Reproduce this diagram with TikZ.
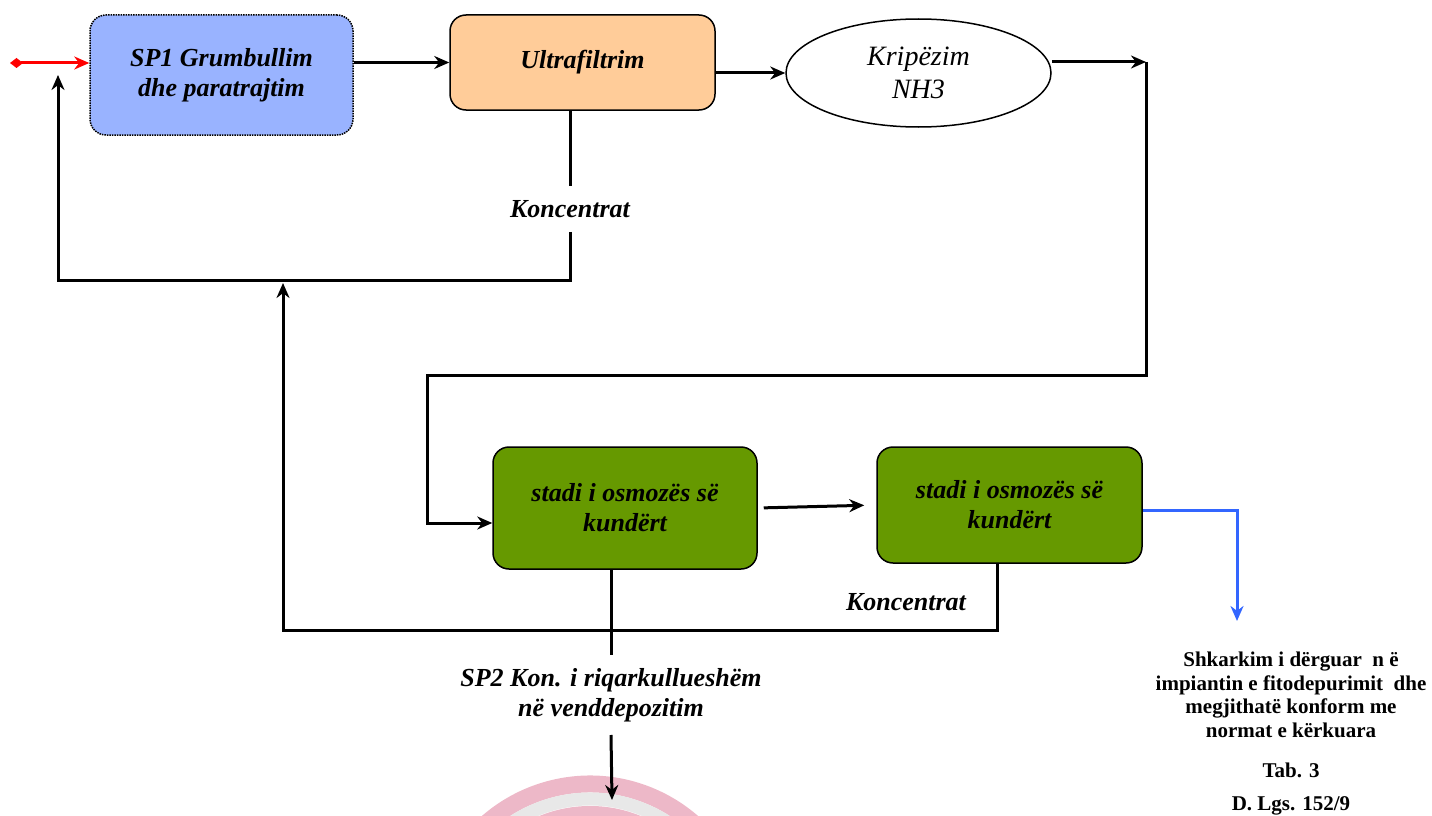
\documentclass[tikz,border=0pt]{standalone}
\usepackage{fontspec}
\setmainfont{Liberation Serif}
\usepackage{tikz}
\usetikzlibrary{
	positioning,
	arrows.meta,
	shapes.geometric
}

\definecolor{spblue}{HTML}{99B3FF}
\definecolor{ufpeach}{HTML}{FFCC99}
\definecolor{rogreen}{HTML}{669900}
\definecolor{outblue}{HTML}{3366FF}
\definecolor{markpink}{HTML}{EAACBE}

\tikzset{
	boxtext/.style={font=\fontsize{26}{30}\selectfont\bfseries\itshape, align=center},
	procbox/.style={boxtext, draw=black, line width=1.5pt, rounded corners=16pt, inner sep=0pt},
	flow/.style={line width=3pt, -{Stealth[length=15pt,width=13pt]}},
	pipe/.style={line width=3pt},
	outtext/.style={font=\fontsize{21}{23.5}\selectfont\bfseries, align=center, inner sep=0pt}
}

\begin{document}
\begin{tikzpicture}[x=1pt,y=-1pt]
		\useasboundingbox (0,0) rectangle (1432,816);

		% watermark arc at the bottom
		\begin{scope}
			\clip (0,0) rectangle (1432,816);
			\draw[markpink, line width=17pt, opacity=.85] (590,940) ++(205:156) arc[start angle=205, end angle=335, radius=156];
			\draw[gray!18, line width=13pt] (590,940) ++(205:141) arc[start angle=205, end angle=335, radius=141];
			\draw[markpink, line width=16pt, opacity=.85] (590,940) ++(205:126) arc[start angle=205, end angle=335, radius=126];
		\end{scope}

		\draw
			node[procbox, fill=spblue, densely dotted, minimum width=263pt, minimum height=120pt] (sp1) at (221.5,75) {SP1 Grumbullim\\dhe paratrajtim}
			node[procbox, fill=ufpeach, minimum width=265pt, minimum height=95pt]                 (uf)  at (582.5,62.5) {Ultrafiltrim}
			node[ellipse, draw, line width=1.5pt, minimum width=265pt, minimum height=108pt, inner sep=0pt,
				font=\fontsize{28}{33}\selectfont\itshape, align=center]                              (nh3) at (918.5,73) {Kripëzim\\NH3}
			node[procbox, fill=rogreen, minimum width=264pt, minimum height=122pt]                (ro1) at (625,508) {stadi i osmozës së\\kundërt}
			node[procbox, fill=rogreen, minimum width=265pt, minimum height=116pt]                (ro2) at (1009.5,505) {stadi i osmozës së\\kundërt}

			node[boxtext, inner sep=14pt] (k1)  at (570,209) {Koncentrat}
			node[boxtext, inner sep=4pt]  (k2)  at (906,602) {Koncentrat}
			node[boxtext, inner sep=13pt] (sp2) at (611,695) {SP2 Kon. i riqarkullueshëm\\në venddepozitim}

			node[outtext] (out)  at (1291,695) {Shkarkim i dërguar\ \ n ë\\impiantin e fitodepurimit\ \ dhe\\megjithatë konform me\\normat e kërkuara}
			node[outtext] (tab)  at (1291,770) {Tab. 3}
			node[outtext] (dlgs) at (1291,806) {D. Lgs. 152/9}
		;

		\coordinate (in)    at (10,63);
		\coordinate (turn1) at (1146,62);
		\coordinate (turn2) at (1146,375);
		\coordinate (turn3) at (427,375);
		\coordinate (turn4) at (427,523);
		\coordinate (back1) at (570,280);
		\coordinate (back2) at (58,280);
		\coordinate (ret1)  at (997,630);
		\coordinate (ret2)  at (283,630);
		\coordinate (drop)  at (1237,510);
		\coordinate (dropend) at (1237,621);
		\coordinate (depo)  at (612,800);

		% feed
		\draw[red, line width=3pt, {Diamond[length=13pt,width=10pt]}-{Stealth[length=15pt,width=13pt]}] (in) -- (sp1.west |- in);

		% upper line
		\draw[flow] (sp1.east |- uf.west) -- (uf.west);
		\draw[flow] (uf.east |- nh3.west) -- (nh3.west);
		\draw[flow] (nh3.east |- turn1) -- (turn1);
		\draw[flow] (turn1) -- (turn2) -- (turn3) -- (turn4) -- (ro1.west |- turn4);

		% concentrate back to the start
		\draw[pipe] (uf.south -| k1) -- (k1.north);
		\draw[flow] (k1.south) -- (back1) -- (back2) -- (sp1.west -| back2);

		% reverse osmosis
		\draw[flow, shorten <=6pt, shorten >=12pt] (ro1.east) -- (ro2.west);
		\draw[outblue, flow] (ro2.east |- drop) -- (drop) -- (dropend);
		\draw[flow, shorten >=3pt] (ro2.south -| ret1) -- (ret1) -- (ret2) -- (back1 -| ret2);
		\draw[pipe] (ro1.south -| sp2) -- (sp2.north);
		\draw[flow] (sp2.south) -- (depo);
	\end{tikzpicture}
\end{document}
